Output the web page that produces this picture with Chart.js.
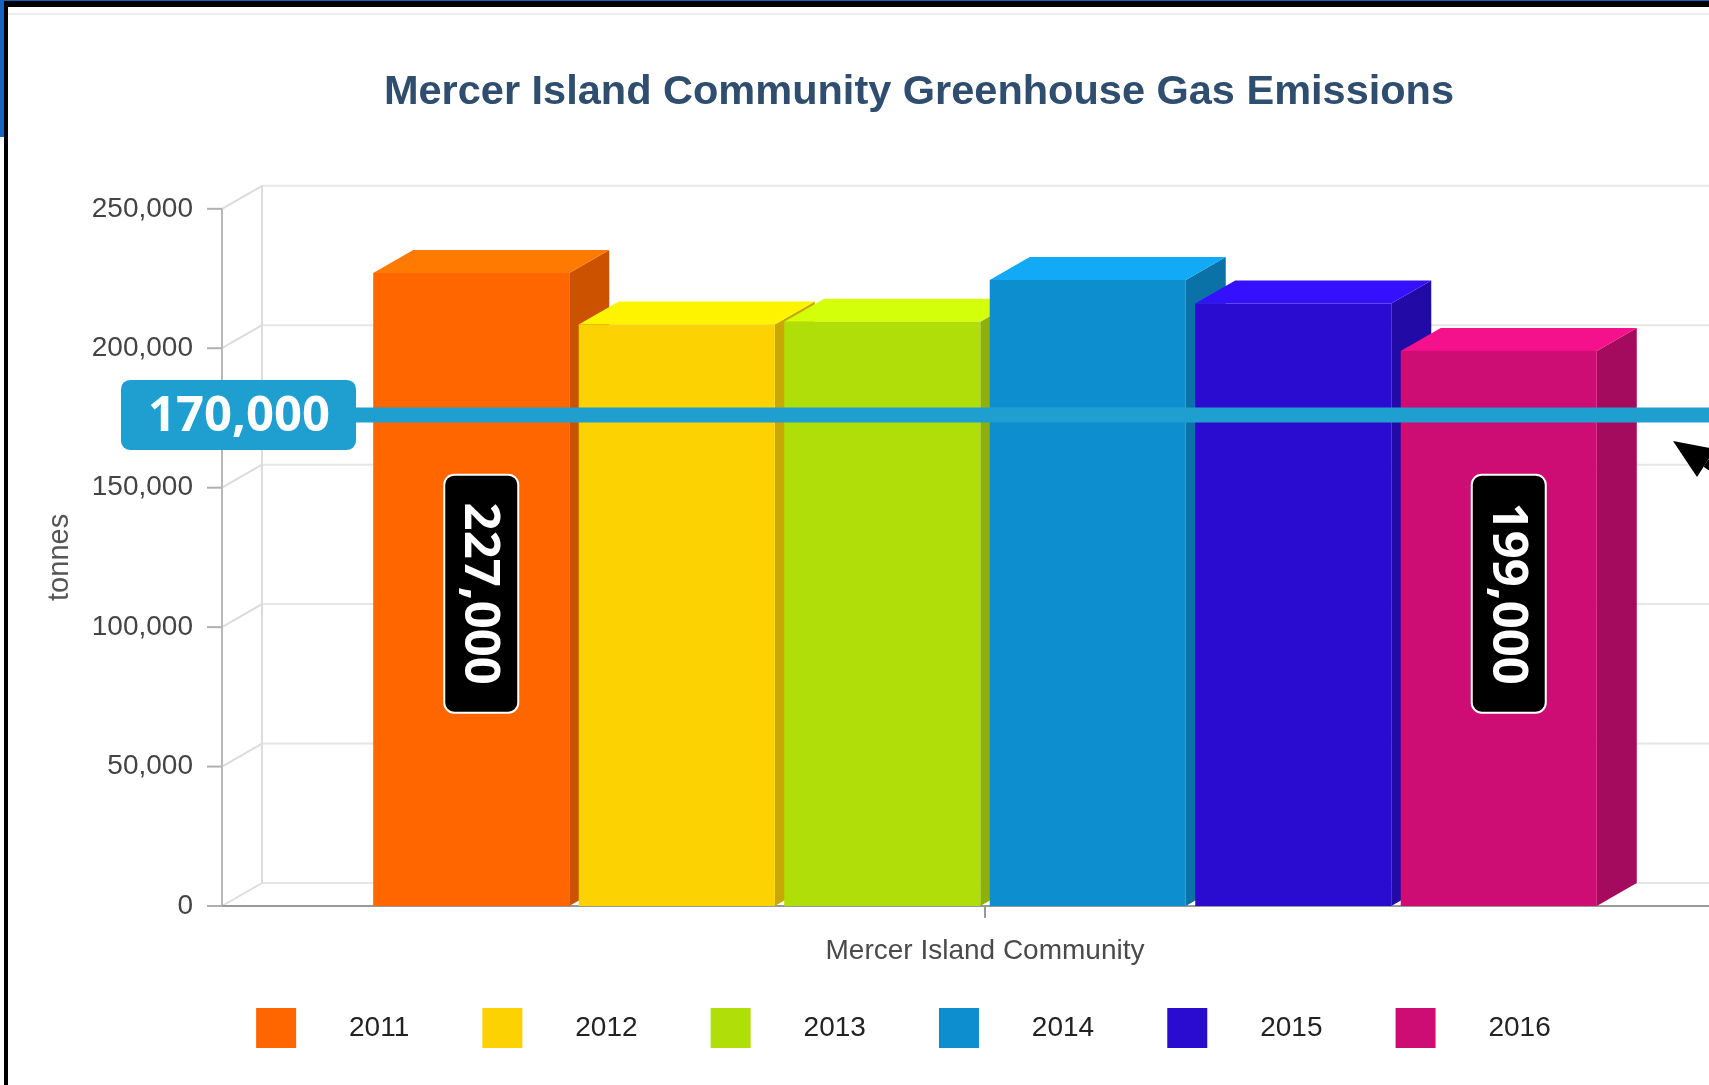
<!DOCTYPE html>
<html>
<head>
<meta charset="utf-8">
<title>Mercer Island Community Greenhouse Gas Emissions</title>
<script src="https://cdn.jsdelivr.net/npm/chart.js@4.4.1/dist/chart.umd.min.js"></script>
<style>
    html, body { margin: 0; padding: 0; background: #fff; overflow: hidden; }
    #wrap { position: relative; width: 1709px; height: 1085px; overflow: hidden; background: #fff; }
    #emissionChart { position: absolute; left: 0; top: 0; }
    .blue-top { position: absolute; left: 0; top: 0; width: 1709px; height: 2px; background: #1565c0; }
    .blue-left { position: absolute; left: 0; top: 0; width: 5px; height: 137px; background: #1565c0; }
    .frame { position: absolute; left: 4px; top: 1px; width: 1709px; height: 1090px; border-top: 6px solid #000; border-left: 4px solid #000; }
    .inner-line { position: absolute; left: 8px; top: 13px; width: 1709px; height: 2px; background: #ececec; }
</style>
</head>
<body>
<div id="wrap">
    <canvas id="emissionChart" width="1838" height="1085"></canvas>
    <div class="inner-line"></div>
    <div class="blue-top"></div>
    <div class="blue-left"></div>
    <div class="frame"></div>
</div>
<script>
// Data
const categories = ["Mercer Island Community"];
const years = ["2011", "2012", "2013", "2014", "2015", "2016"];
const emissions = [227000, 208500, 209500, 224500, 216000, 199000];
const yTicks = [0, 50000, 100000, 150000, 200000, 250000];
const targetValue = 170000;          // blue marker line
const calloutYears = ["2011", "2016"]; // bars with the black value tags

// Colours: front, top and side of each column
const frontColors = ["#FF6600", "#FCD202", "#B0DE09", "#0D8ECF", "#2A0CD0", "#CD0D74"];
const topColors   = ["#FF7A00", "#FFF400", "#D4FF0A", "#12AAF6", "#3510FF", "#F5118B"];
const sideColors  = ["#CC5200", "#C9A802", "#8DB207", "#0A72A6", "#220AA6", "#A40A5D"];

const DEPTH_X = 40;   // 3d offset to the right
const DEPTH_Y = 23;   // 3d offset upwards
const FONT = "'Liberation Sans', Arial, sans-serif";
const BOLD_FONT = "'Open Sans', 'DejaVu Sans', sans-serif";
const LEAD = "     "; // gap between legend box and text
const TAIL = "    ";

const fmt = v => v.toLocaleString('en-US');

function poly(ctx, pts, color) {
    ctx.beginPath();
    ctx.moveTo(pts[0][0], pts[0][1]);
    for (let i = 1; i < pts.length; i++) ctx.lineTo(pts[i][0], pts[i][1]);
    ctx.closePath();
    ctx.fillStyle = color;
    ctx.fill();
}

function line(ctx, x1, y1, x2, y2, color, w) {
    ctx.beginPath();
    ctx.moveTo(x1, y1);
    ctx.lineTo(x2, y2);
    ctx.strokeStyle = color;
    ctx.lineWidth = w;
    ctx.stroke();
}

// 3d walls, grid and column faces
const columns3d = {
    id: 'columns3d',
    beforeDatasetsDraw(chart) {
        const { ctx, chartArea: area, scales: { x, y } } = chart;
        const far = chart.width + 50;
        ctx.save();

        // back wall grid + diagonal connectors
        yTicks.forEach(v => {
            const py = y.getPixelForValue(v);
            line(ctx, area.left, py, area.left + DEPTH_X, py - DEPTH_Y, '#dcdcdc', 2);
            line(ctx, area.left + DEPTH_X, py - DEPTH_Y, far, py - DEPTH_Y, '#e6e6e6', 2);
            line(ctx, area.left - 15, py, area.left, py, '#b0b0b0', 2);
        });
        line(ctx, area.left + DEPTH_X, area.top - DEPTH_Y, area.left + DEPTH_X, area.bottom - DEPTH_Y, '#dcdcdc', 2);
        line(ctx, area.left, area.top, area.left, area.bottom, '#b8b8b8', 2);
        line(ctx, area.left, area.bottom, far, area.bottom, '#999999', 2);
        const cx = x.getPixelForValue(0);
        line(ctx, cx, area.bottom, cx, area.bottom + 12, '#999999', 2);

        const bars = chart.data.datasets.map((ds, i) => chart.getDatasetMeta(i).data[0]);
        // side faces first, then tops, fronts are drawn by Chart.js
        bars.forEach((bar, i) => {
            const r = bar.x + bar.width / 2;
            poly(ctx, [[r, bar.y], [r + DEPTH_X, bar.y - DEPTH_Y],
                       [r + DEPTH_X, bar.base - DEPTH_Y], [r, bar.base]], sideColors[i]);
        });
        bars.forEach((bar, i) => {
            const l = bar.x - bar.width / 2, r = bar.x + bar.width / 2;
            poly(ctx, [[l, bar.y], [r, bar.y], [r + DEPTH_X, bar.y - DEPTH_Y],
                       [l + DEPTH_X, bar.y - DEPTH_Y]], topColors[i]);
        });
        ctx.restore();
    },
    afterDatasetsDraw(chart) {
        const { ctx, scales: { y } } = chart;
        ctx.save();

        // blue target line with its tag (roughly on the back wall)
        const ly = y.getPixelForValue(targetValue) - DEPTH_Y + 6;
        line(ctx, 356, ly, chart.width, ly, '#1E9FD0', 15);
        ctx.beginPath();
        ctx.roundRect(121, ly - 35, 235, 70, 9);
        ctx.fillStyle = '#1E9FD0';
        ctx.fill();
        ctx.fillStyle = '#fff';
        ctx.font = 'bold 49px ' + BOLD_FONT;
        ctx.textAlign = 'center';
        ctx.textBaseline = 'middle';
        ctx.fillText(fmt(targetValue), 239, ly + 2);

        // black rotated value tags
        const tagY = y.getPixelForValue(112000);
        calloutYears.forEach(yr => {
            const i = years.indexOf(yr);
            const bar = chart.getDatasetMeta(i).data[0];
            const tx = bar.x + 10;
            ctx.beginPath();
            ctx.roundRect(tx - 37, tagY - 119, 74, 238, 10);
            ctx.fillStyle = '#000';
            ctx.fill();
            ctx.strokeStyle = '#fff';
            ctx.lineWidth = 2;
            ctx.stroke();
            ctx.save();
            ctx.translate(tx, tagY);
            ctx.rotate(Math.PI / 2);
            ctx.fillStyle = '#fff';
            ctx.font = 'bold 49px ' + BOLD_FONT;
            ctx.textAlign = 'center';
            ctx.textBaseline = 'middle';
            ctx.fillText(fmt(emissions[i]), 0, 2);
            ctx.restore();
        });

        // black arrow head at the right edge
        const ay = ly + 26;
        poly(ctx, [[1673, ay], [1697, ay + 36], [1715, ay + 8]], '#000');
        line(ctx, 1706, ay + 22, 1760, ay + 58, '#000', 9);
        ctx.restore();
    }
};

const datasets = years.map((yr, i) => ({
    label: yr,
    data: [emissions[i]],
    backgroundColor: frontColors[i],
    borderWidth: 0
}));

const config = {
    type: 'bar',
    data: { labels: categories, datasets: datasets },
    options: {
        responsive: false,
        animation: false,
        events: [],
        devicePixelRatio: 1,
        layout: { padding: { top: 0, left: 0, right: 0, bottom: 27 } },
        datasets: {
            bar: { categoryPercentage: 0.808, barPercentage: 0.954 }
        },
        scales: {
            x: {
                grid: { display: false },
                border: { display: false },
                ticks: { color: '#4a4a4a', font: { family: FONT, size: 28 }, padding: 20 },
                afterFit: s => { s.height = 60; }
            },
            y: {
                min: 0,
                max: 250000,
                grid: { display: false },
                border: { display: false },
                afterBuildTicks: s => { s.ticks = yTicks.map(v => ({ value: v })); },
                ticks: {
                    color: '#444',
                    font: { family: FONT, size: 28 },
                    padding: 21,
                    callback: v => fmt(v)
                },
                title: {
                    display: true,
                    text: 'tonnes',
                    color: '#555',
                    font: { family: FONT, size: 29 },
                    padding: { top: 43, bottom: 0 }
                },
                afterFit: s => { s.width = 222; }
            },
            // empty right margin so the title sits where it did
            yRight: {
                position: 'right',
                grid: { display: false },
                border: { display: false },
                ticks: { display: false },
                afterFit: s => { s.width = 90; }
            }
        },
        plugins: {
            tooltip: { enabled: false },
            title: {
                display: true,
                text: 'Mercer Island Community Greenhouse Gas Emissions',
                color: '#2f4d6e',
                font: { family: FONT, size: 41.5, weight: 'bold' },
                padding: { top: 68, bottom: 91 }
            },
            legend: {
                position: 'bottom',
                labels: {
                    boxWidth: 40,
                    boxHeight: 40,
                    padding: 42,
                    color: '#222',
                    font: { family: FONT, size: 28 },
                    generateLabels: chart => Chart.defaults.plugins.legend.labels.generateLabels(chart)
                        .map(item => Object.assign(item, { text: LEAD + item.text + TAIL }))
                }
            }
        }
    },
    plugins: [columns3d]
};

document.addEventListener('DOMContentLoaded', function() {
    const ctx = document.getElementById('emissionChart');
    if (ctx) {
        new Chart(ctx, config);
    }
});
</script>
</body>
</html>
